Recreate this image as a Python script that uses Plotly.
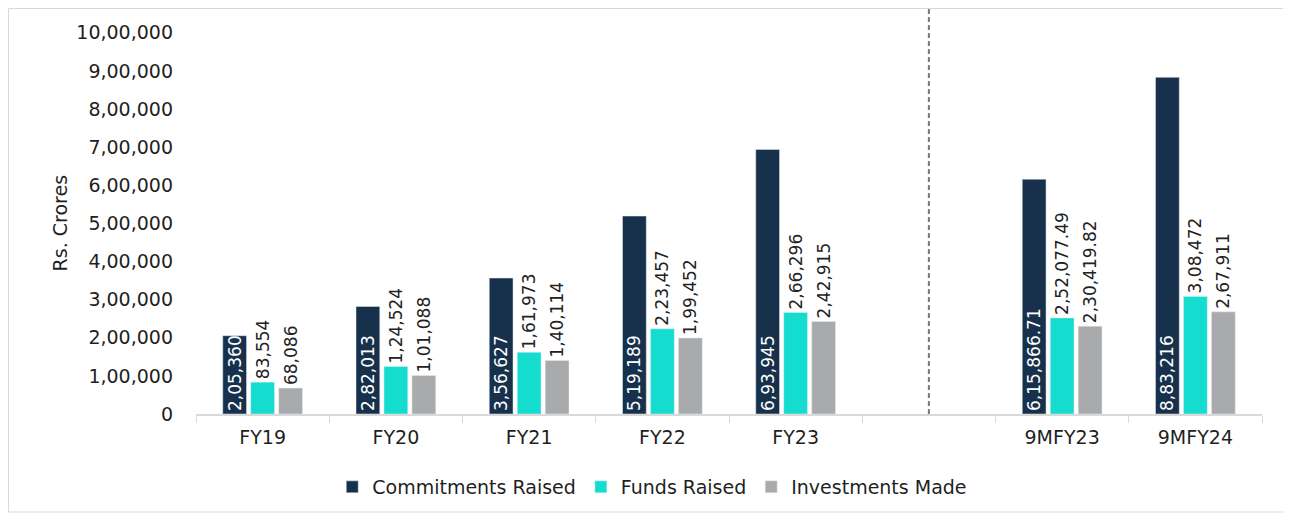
import plotly.graph_objects as go

categories = ["FY19", "FY20", "FY21", "FY22", "FY23", " ", "9MFY23", "9MFY24"]
commitments_raised = [205360, 282013, 356627, 519189, 693945, None, 615866.71, 883216]
funds_raised = [83554, 124524, 161973, 223457, 266296, None, 252077.49, 308472]
investments_made = [68086, 101088, 140114, 199452, 242915, None, 230419.82, 267911]
y_ticks = [0, 100000, 200000, 300000, 400000, 500000, 600000, 700000, 800000, 900000, 1000000]


def indian(v):
    if v is None:
        return ""
    if float(v).is_integer():
        ip, dp = str(int(v)), ""
    else:
        s = f"{v:.2f}"
        ip, dp = s.split(".")
        dp = "." + dp
    if len(ip) > 3:
        head, tail = ip[:-3], ip[-3:]
        groups = []
        while len(head) > 2:
            groups.insert(0, head[-2:])
            head = head[:-2]
        if head:
            groups.insert(0, head)
        ip = ",".join(groups + [tail])
    return ip + dp


FONT = "DejaVu Sans"
# page body has an 8px default margin; figure sized to fit the window
W, H = 1283, 509
L, R, T, B = 188, 29, 0, 103
PW, PH = W - L - R, H - T - B

fig = go.Figure()
fig.add_trace(go.Bar(
    name="Commitments Raised", x=categories, y=commitments_raised,
    text=[indian(v) for v in commitments_raised], textposition="inside",
    insidetextanchor="start", textangle=-90, constraintext="none",
    textfont=dict(color="white", size=17, family=FONT),
    marker=dict(color="#17314C"),
))
fig.add_trace(go.Bar(
    name="Funds Raised", x=categories, y=funds_raised,
    text=[indian(v) for v in funds_raised], textposition="outside",
    textangle=-90, constraintext="none",
    textfont=dict(color="#222222", size=17, family=FONT),
    marker=dict(color="#14DCCF"),
))
fig.add_trace(go.Bar(
    name="Investments Made", x=categories, y=investments_made,
    text=[indian(v) for v in investments_made], textposition="outside",
    textangle=-90, constraintext="none",
    textfont=dict(color="#222222", size=17, family=FONT),
    marker=dict(color="#A8AAAC"),
))

# vertical dashed separator in the blank category
fig.add_shape(type="line", xref="x", yref="paper", x0=5, x1=5, y0=0, y1=1,
              line=dict(color="#7a7a7a", width=2, dash="5px,3px"))
# outer chart border
fig.add_shape(type="rect", xref="paper", yref="paper",
              x0=(0.5 - L) / PW, x1=(1277 - L) / PW,
              y0=-(504 - (H - B)) / PH, y1=1 + (T - 0.5) / PH,
              line=dict(color="#d9d9d9", width=1), layer="below")

# y-axis title, centred on the labelled 0 – 10,00,000 span
fig.add_annotation(text="Rs. Crores", textangle=-90, showarrow=False,
                   xref="paper", x=(52 - L) / PW, xanchor="center",
                   yref="y", y=y_ticks[-1] / 2, yanchor="middle",
                   font=dict(size=19, family=FONT, color="#1f1f1f"))

fig.update_layout(
    width=W, height=H,
    margin=dict(l=L, r=R, t=T, b=B, autoexpand=False),
    paper_bgcolor="white", plot_bgcolor="white",
    barmode="group", bargap=0.37, bargroupgap=0.15,
    font=dict(family=FONT, size=19, color="#1f1f1f"),
    showlegend=True,
    legend=dict(orientation="h", x=0.428, xanchor="center",
                yref="container", y=1 - 479 / H, yanchor="middle",
                font=dict(size=19, family=FONT), traceorder="normal",
                bgcolor="rgba(0,0,0,0)", itemwidth=30),
)
fig.update_xaxes(
    type="category", categoryorder="array", categoryarray=categories,
    showline=True, linecolor="#d9d9d9", linewidth=1.5,
    ticks="outside", tickson="boundaries", ticklen=7, tickcolor="#d9d9d9",
    showgrid=False, tickfont=dict(size=19, family=FONT), ticklabelstandoff=5,
    automargin=False,
)
fig.update_yaxes(
    range=[0, 1065000], tickvals=y_ticks, ticktext=[indian(v) for v in y_ticks],
    showgrid=False, showline=False, zeroline=False, ticks="",
    tickfont=dict(size=19, family=FONT), ticklabelstandoff=22,
    automargin=False,
)

fig.write_html("out.html")
